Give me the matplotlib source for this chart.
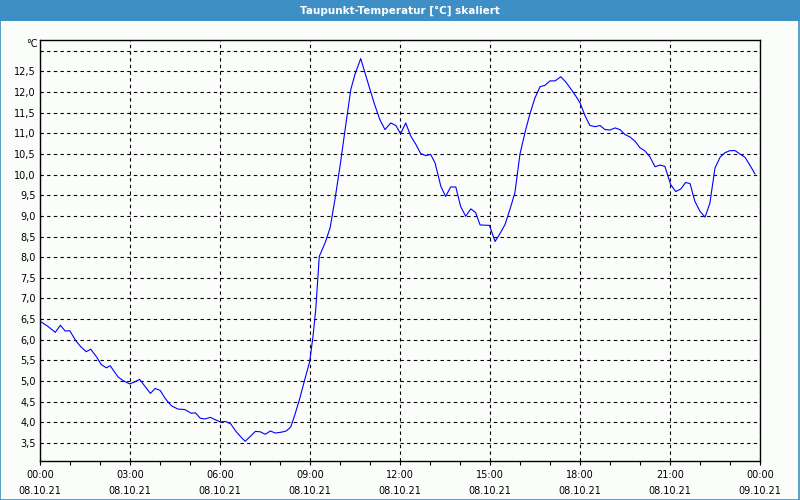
import matplotlib
matplotlib.use('Agg')
import matplotlib.pyplot as plt
from matplotlib.patches import Rectangle
import numpy as np

# Dew point readings (hours since 08.10.21 00:00, °C)
hours = [0.02, 0.27, 0.51, 0.68, 0.84, 0.99, 1.19, 1.36, 1.54, 1.69, 1.88, 2.04, 2.21, 2.34,
         2.6, 2.77, 2.99, 3.16, 3.32, 3.49, 3.68, 3.84, 4.01, 4.18, 4.38, 4.6, 4.82, 5.04,
         5.18, 5.34, 5.49, 5.68, 5.82, 6.01, 6.19, 6.36, 6.52, 6.69, 6.84, 7.01, 7.18, 7.34,
         7.51, 7.68, 7.84, 8.04, 8.21, 8.36, 8.49, 8.66, 8.82, 8.99, 9.1, 9.19, 9.31, 9.5,
         9.67, 9.83, 10.0, 10.17, 10.36, 10.5, 10.69, 10.83, 11.0, 11.17, 11.33, 11.5, 11.69,
         11.86, 12.02, 12.19, 12.36, 12.53, 12.69, 12.86, 13.02, 13.17, 13.36, 13.52, 13.69,
         13.86, 14.02, 14.19, 14.36, 14.52, 14.67, 14.98, 15.17, 15.34, 15.5, 15.67, 15.83,
         16.0, 16.17, 16.33, 16.5, 16.67, 16.83, 17.0, 17.17, 17.36, 17.53, 17.69, 17.87,
         18.0, 18.17, 18.33, 18.5, 18.67, 18.83, 19.0, 19.17, 19.33, 19.5, 19.67, 19.83,
         20.0, 20.17, 20.33, 20.5, 20.67, 20.83, 21.02, 21.19, 21.36, 21.52, 21.67, 21.83,
         22.0, 22.17, 22.33, 22.5, 22.67, 22.83, 23.0, 23.17, 23.33, 23.5, 23.67, 23.83]
taupunkt = [6.44, 6.32, 6.18, 6.35, 6.21, 6.22, 5.98, 5.83, 5.71, 5.77, 5.59, 5.40, 5.32, 5.37,
            5.10, 5.01, 4.93, 4.98, 5.04, 4.88, 4.70, 4.82, 4.77, 4.57, 4.40, 4.32, 4.31, 4.22,
            4.23, 4.10, 4.08, 4.12, 4.07, 4.01, 4.02, 3.96, 3.79, 3.65, 3.54, 3.66, 3.78, 3.77,
            3.71, 3.79, 3.74, 3.76, 3.79, 3.89, 4.17, 4.58, 5.02, 5.47, 6.08, 6.72, 8.02, 8.34,
            8.71, 9.39, 10.2, 11.09, 12.06, 12.43, 12.81, 12.47, 12.06, 11.66, 11.33, 11.09, 11.25,
            11.19, 10.99, 11.25, 10.93, 10.73, 10.51, 10.46, 10.49, 10.28, 9.72, 9.47, 9.70,
            9.70, 9.23, 8.99, 9.17, 9.08, 8.78, 8.77, 8.38, 8.58, 8.79, 9.17, 9.56,
            10.5, 11.03, 11.47, 11.86, 12.13, 12.16, 12.27, 12.27, 12.37, 12.24, 12.08, 11.89,
            11.74, 11.42, 11.19, 11.16, 11.19, 11.09, 11.08, 11.13, 11.09, 10.97, 10.91, 10.81,
            10.65, 10.57, 10.43, 10.19, 10.23, 10.20, 9.76, 9.59, 9.65, 9.81, 9.78, 9.35,
            9.11, 8.97, 9.31, 10.16, 10.42, 10.53, 10.58, 10.58, 10.50, 10.42, 10.22, 10.02]

x_ticks = [0, 3, 6, 9, 12, 15, 18, 21, 24]
x_labels = ['00:00\n08.10.21', '03:00\n08.10.21', '06:00\n08.10.21', '09:00\n08.10.21',
            '12:00\n08.10.21', '15:00\n08.10.21', '18:00\n08.10.21', '21:00\n08.10.21',
            '00:00\n09.10.21']
y_ticks = [3.5, 4.0, 4.5, 5.0, 5.5, 6.0, 6.5, 7.0, 7.5, 8.0, 8.5, 9.0, 9.5, 10.0,
           10.5, 11.0, 11.5, 12.0, 12.5, 13.0]

bg = '#fbfdfb'
bar = '#3d8fc6'

fig = plt.figure(figsize=(8, 5), dpi=100, facecolor=bg)

# title bar and frame
fig.patches.append(Rectangle((0, 0.959), 1, 0.041, transform=fig.transFigure,
                             facecolor=bar, edgecolor='none', zorder=0))
fig.patches.append(Rectangle((0.0006, 0.001), 0.9982, 0.998, transform=fig.transFigure,
                             facecolor='none', edgecolor=bar, linewidth=1.2, zorder=5))
fig.text(0.5, 0.979, 'Taupunkt-Temperatur [°C] skaliert', color='white', ha='center',
         va='center', fontsize=7.5, fontweight='bold')

ax = fig.add_axes([0.05, 0.0786, 0.9, 0.8414])
ax.set_facecolor(bg)
ax.plot(hours, taupunkt, color='#0000ff', linewidth=0.8, zorder=3)

ax.set_xlim(0, 24)
ax.set_ylim(3.07, 13.26)

ax.set_xticks(x_ticks)
ax.set_xticklabels(x_labels, fontsize=7, linespacing=1.75)
ax.set_xticks(np.arange(0, 25, 1), minor=True)
ax.tick_params(axis='x', which='both', direction='out', length=3, width=0.8, pad=4)

ax.set_yticks(y_ticks)
ax.set_yticklabels([('%.1f' % v).replace('.', ',') if v < 13 else '' for v in y_ticks],
                   fontsize=7)
ax.tick_params(axis='y', length=0, pad=3)

ax.grid(True, which='major', color='black', linestyle=(0, (3, 3)), linewidth=0.8)
ax.set_axisbelow(True)
for s in ax.spines.values():
    s.set_linewidth(1.0)
    s.set_color('black')

fig.text(0.047, 0.912, '°C', ha='right', va='center', fontsize=7)

fig.savefig('out.png', dpi=100, facecolor=bg)
